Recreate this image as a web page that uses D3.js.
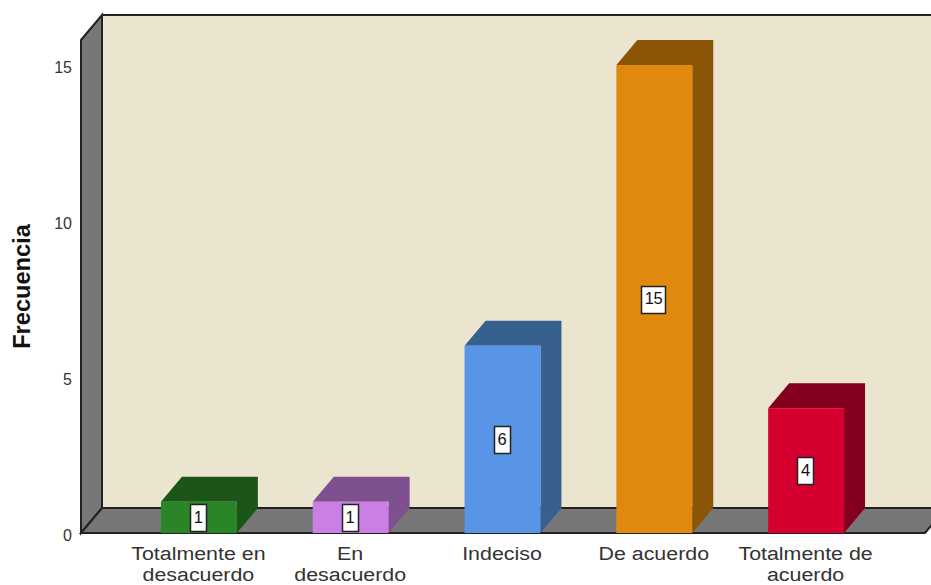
<!DOCTYPE html>
<html><head><meta charset="utf-8">
<script src="https://cdn.jsdelivr.net/npm/d3@7/dist/d3.min.js"></script>
<style>html,body{margin:0;padding:0;background:#fff;overflow:hidden}svg{display:block}text{font-family:"Liberation Sans",Arial,sans-serif;fill:#333}</style>
</head><body><svg id="c" width="931" height="585"></svg>
<script>
const categories=["Totalmente en desacuerdo","En desacuerdo","Indeciso","De acuerdo","Totalmente de acuerdo"];
const labelLines=[["Totalmente en","desacuerdo"],["En","desacuerdo"],["Indeciso"],["De acuerdo"],["Totalmente de","acuerdo"]];
const values=[1,1,6,15,4];
const frontColors=["#2a8526","#c97fe3","#5895e6","#e0890e","#d5002f"];
const sideColors=["#1b5518","#7f508f","#38608f","#8a5506","#84001e"];
const yTicks=[0,5,10,15];
const dx=21,dy=-25,leftX=81,rightX=925;
const svg=d3.select("#c");
const x=d3.scaleBand().domain(categories).range([123,882]).paddingInner(.5).paddingOuter(.25);
const y=d3.scaleLinear().domain([0,15]).range([533,65]);
const topY=y(15)+dy,base=y(0);
const poly=(pts,f,s,w)=>svg.append("polygon").attr("points",pts.map(p=>p.join(",")).join(" ")).attr("fill",f).attr("stroke",s||"none").attr("stroke-width",w||0);
poly([[leftX+dx,topY+dy],[rightX+dx,topY+dy],[rightX+dx,base+dy],[leftX+dx,base+dy]],"#ebe5d0");
poly([[leftX,topY],[leftX+dx,topY+dy],[leftX+dx,base+dy],[leftX,base]],"#777777","#222",2);
poly([[leftX,base],[leftX+dx,base+dy],[rightX+dx,base+dy],[rightX,base]],"#777777","#222",2);
svg.append("line").attr("x1",leftX+dx).attr("x2",931).attr("y1",topY+dy).attr("y2",topY+dy).attr("stroke","#222").attr("stroke-width",2);
svg.append("line").attr("x1",leftX+dx).attr("x2",leftX+dx).attr("y1",topY+dy).attr("y2",base+dy).attr("stroke","#222").attr("stroke-width",2);
const g=svg.selectAll("g.bar").data(categories).join("g").attr("class","bar");
g.append("polygon").attr("fill",(d,i)=>sideColors[i]).attr("points",(d,i)=>{const a=x(d),b=a+x.bandwidth(),t=y(values[i]);return [[a,t],[a+dx,t+dy],[b+dx,t+dy],[b+dx,base+dy],[b,base],[b,t]].map(p=>p.join(",")).join(" ")});
g.append("rect").attr("x",d=>x(d)).attr("width",x.bandwidth()).attr("y",(d,i)=>y(values[i])).attr("height",(d,i)=>base-y(values[i])).attr("fill",(d,i)=>frontColors[i]);
g.each(function(d,i){
  const two=String(values[i]).length>1,w=two?24:16,h=27,cx=x(d)+x.bandwidth()/2,cy=y(values[i]/2)+.6;
  const s=d3.select(this);
  s.append("rect").attr("x",Math.round(cx-w/2)+.5-1).attr("y",Math.round(cy-14)+.5).attr("width",w).attr("height",h).attr("fill","#fff").attr("stroke","#222").attr("stroke-width",1.5);
  s.append("text").attr("x",cx-.5).attr("y",cy+.5).attr("text-anchor","middle").attr("dominant-baseline","middle").attr("font-size",16.5).attr("textLength",two?18:9).style("fill","#111").text(values[i]);
});
const ya=svg.append("g").attr("transform","translate(72,2.5)").call(d3.axisLeft(y).tickValues(yTicks).tickSize(0).tickPadding(0));
ya.select(".domain").remove();
ya.selectAll("text").attr("font-size",16).style("font-family",'"Liberation Sans",Arial,sans-serif').style("fill","#333");
labelLines.forEach((ls,i)=>{
  ls.forEach((l,j)=>{
    const t=svg.append("text").attr("text-anchor","middle").attr("font-size",18.8)
      .attr("x",x(categories[i])+x.bandwidth()/2-.5).attr("y",559.5+j*21.5).text(l);
    t.attr("lengthAdjust","spacingAndGlyphs").attr("textLength",t.node().getComputedTextLength()*1.138);
  });
});
svg.append("text").attr("transform","translate(30,286.5) rotate(-90)").attr("text-anchor","middle").attr("font-size",23.6).attr("font-weight","bold").style("fill","#111").text("Frecuencia");
</script></body></html>
